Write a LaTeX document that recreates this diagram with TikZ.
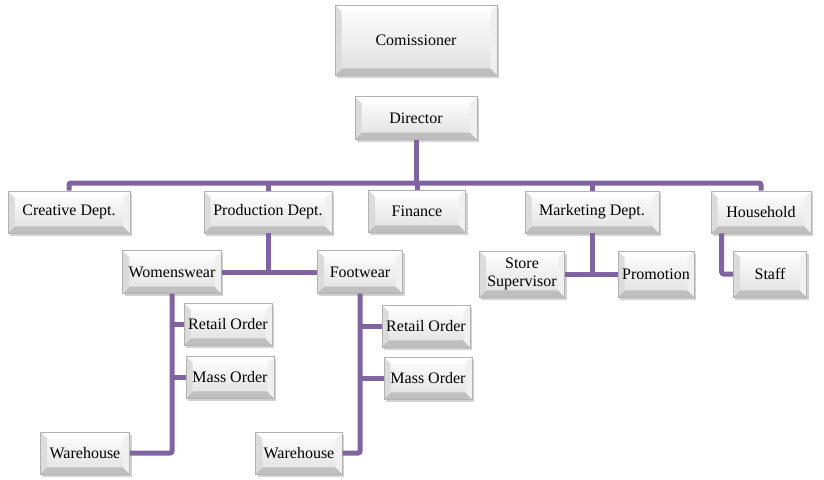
\documentclass[tikz,border=0pt]{standalone}
\usepackage{fontspec}
\setmainfont{Liberation Serif}
\usepackage{tikz}
\usetikzlibrary{shadows}
\definecolor{linkpurple}{HTML}{8064A2}

\begin{document}
\begin{tikzpicture}[
x=0.75pt, y=-0.75pt,
box/.style={draw=gray!60, top color=white, bottom color=gray!25, inner sep=0pt, align=center,
  font=\fontsize{12}{13}\selectfont, minimum height=31.5pt,
  drop shadow={shadow xshift=1.5pt, shadow yshift=-2pt, opacity=0.45, fill=gray!80},
  path picture={
    \coordinate (sw) at (path picture bounding box.south west);
    \coordinate (ne) at (path picture bounding box.north east);
    \coordinate (se) at (sw -| ne);
    \coordinate (nw) at (ne -| sw);
    \fill[gray!50] (sw) -- (se) -- ([shift={(-5pt,5pt)}]se) -- ([shift={(5pt,5pt)}]sw) -- cycle;
    \fill[gray!12] (se) -- (ne) -- ([shift={(-5pt,-5pt)}]ne) -- ([shift={(-5pt,5pt)}]se) -- cycle;
    \fill[white] (nw) -- (ne) -- ([shift={(-5pt,-5pt)}]ne) -- ([shift={(5pt,-5pt)}]nw) -- cycle;
    \fill[gray!28] (sw) -- (nw) -- ([shift={(5pt,-5pt)}]nw) -- ([shift={(5pt,5pt)}]sw) -- cycle;
  }},
link/.style={draw=linkpurple, line width=3.75pt, rounded corners=1.5pt}
]
\useasboundingbox[fill=white] (0,0) rectangle (824,479);

% top of the chart
\node[box, minimum width=121.5pt, minimum height=52.5pt] (com) at (416,40) {Comissioner};
\node[box, minimum width=91.5pt, minimum height=32pt] (dir) at (416,118) {Director};

% departments
\node[box, minimum width=91.5pt] (cre) at (69,212) {Creative Dept.};
\node[box, minimum width=96pt] (prod) at (268,212) {Production Dept.};
\node[box, minimum width=73pt] (fin) at (417,211) {Finance};
\node[box, minimum width=100.5pt] (mkt) at (592,212) {Marketing Dept.};
\node[box, minimum width=75pt] (hou) at (761,212) {Household};

% production
\node[box, minimum width=74pt, minimum height=32pt] (wom) at (172,272) {Womenswear};
\node[box, minimum width=64pt, minimum height=32pt] (foot) at (360,272) {Footwear};
\node[box, minimum width=66pt] (ret1) at (228,324) {Retail Order};
\node[box, minimum width=66pt] (mass1) at (230,377) {Mass Order};
\node[box, minimum width=67pt] (wh1) at (85,453) {Warehouse};
\node[box, minimum width=66pt] (ret2) at (426,326) {Retail Order};
\node[box, minimum width=66pt] (mass2) at (428,378) {Mass Order};
\node[box, minimum width=65pt] (wh2) at (299,453) {Warehouse};

% marketing and household
\node[box, minimum width=64pt, minimum height=34.5pt] (sup) at (522,274) {Store\\Supervisor};
\node[box, minimum width=57pt, minimum height=34.5pt] (pro) at (656,274) {Promotion};
\node[box, minimum width=55pt, minimum height=34.5pt] (staff) at (770,274) {Staff};

% connectors
\coordinate (bus) at (416,183);
\draw[link] (dir.south) -- (bus);
\draw[link] (cre.north) -- (cre.north |- bus) -- (hou.north |- bus) -- (hou.north);
\foreach \d in {prod,fin,mkt}
  \draw[link] (\d.north) -- (\d.north |- bus);

\draw[link] (prod.south) -- (prod.south |- wom.east);
\draw[link] (wom.east) -- (foot.west);
\draw[link] (wom.south) |- (wh1.east);
\draw[link] (wom.south |- ret1.west) -- (ret1.west);
\draw[link] (wom.south |- mass1.west) -- (mass1.west);
\draw[link] (foot.south) |- (wh2.east);
\draw[link] (foot.south |- ret2.west) -- (ret2.west);
\draw[link] (foot.south |- mass2.west) -- (mass2.west);

\draw[link] (mkt.south) -- (mkt.south |- sup.east);
\draw[link] (sup.east) -- (pro.west);
\draw[link] ([xshift=8.25pt]hou.south west) |- (staff.west);
\end{tikzpicture}
\end{document}
